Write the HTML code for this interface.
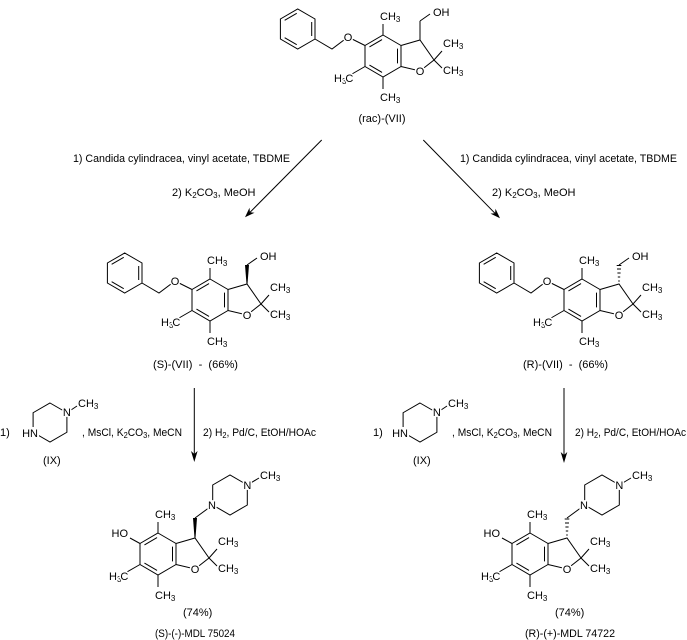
<!DOCTYPE html>
<html><head><meta charset="utf-8"><style>
html,body{margin:0;padding:0;background:#fff;}
svg{display:block;}
.b{stroke:#000;stroke-width:1;fill:none;}
text{font-family:"Liberation Sans",Arial,sans-serif;font-size:11px;fill:#000;}
.l{stroke:#fff;stroke-width:3;paint-order:stroke;stroke-linejoin:round;}
.w{fill:#fff;stroke:none;}
</style></head><body>
<svg width="687" height="640" viewBox="0 0 687 640" xmlns="http://www.w3.org/2000/svg">
<rect width="687" height="640" fill="#fff"/>

<!-- ===== rac-(VII) ===== -->
<g transform="translate(383,35)">
<path class="b" d="M0,0 L18,10.5 L18,31.5 L0,42 L-18,31.5 L-18,10.5 Z M-13.55,11.96 L-0.95,4.6 M14.5,13.65 L14.5,28.35 M-0.95,37.4 L-13.55,30.05 M18,10.5 L37,5 L51,25 L37,36 L18,31.5 M51,25 L59,16 M51,25 L59,33 M0,0 L0,-11 M0,42 L0,54 M-18,31.5 L-31,39"/>
<path class="b" d="M37,5 L37,-14 M37,-14 L47,-21 M-18,10.5 L-35,2 L-51,14 L-68,4 M-68,4 L-68,-16 L-85.3,-26 L-102.6,-16 L-102.6,4 L-85.3,14 Z M-98.35,-14.64 L-86.25,-21.64 M-71.3,-13 L-71.3,1 M-86.25,9.64 L-98.35,2.64"/>
<circle class="w" cx="37" cy="36" r="5"/>
<circle class="w" cx="-35" cy="2" r="5"/>
<text class="l" x="37" y="40" text-anchor="middle">O</text>
<text class="l" x="-3" y="-15">CH<tspan font-size="8" dy="2">3</tspan></text>
<text class="l" x="60" y="12">CH<tspan font-size="8" dy="2">3</tspan></text>
<text class="l" x="60" y="39">CH<tspan font-size="8" dy="2">3</tspan></text>
<text class="l" x="-3" y="66">CH<tspan font-size="8" dy="2">3</tspan></text>
<text class="l" x="-49" y="47">H<tspan font-size="8" dy="2">3</tspan><tspan dy="-2" dx="-1">C</tspan></text>
<text class="l" x="-35" y="6" text-anchor="middle">O</text>
<text class="l" x="50" y="-19">OH</text>
</g>
<text x="382" y="122" text-anchor="middle">(rac)-(VII)</text>

<!-- ===== arrows top ===== -->
<path class="b" d="M321.7,140 L250,212.3"/>
<polygon points="245,217.3 254.5,212.7 249.9,212.3 249.5,207.7" fill="#000"/>
<path class="b" d="M423.3,140 L495,213.3"/>
<polygon points="500,218.3 495.5,208.7 495.1,213.3 490.5,213.6" fill="#000"/>

<text x="73" y="162" textLength="217" lengthAdjust="spacingAndGlyphs">1) Candida cylindracea, vinyl acetate, TBDME</text>
<text x="172" y="196">2) K<tspan font-size="8" dy="2">2</tspan><tspan dy="-2">CO</tspan><tspan font-size="8" dy="2">3</tspan><tspan dy="-2">, MeOH</tspan></text>
<text x="460" y="162" textLength="217" lengthAdjust="spacingAndGlyphs">1) Candida cylindracea, vinyl acetate, TBDME</text>
<text x="492" y="196">2) K<tspan font-size="8" dy="2">2</tspan><tspan dy="-2">CO</tspan><tspan font-size="8" dy="2">3</tspan><tspan dy="-2">, MeOH</tspan></text>

<!-- ===== (S)-(VII) ===== -->
<g transform="translate(210,279)">
<path class="b" d="M0,0 L18,10.5 L18,31.5 L0,42 L-18,31.5 L-18,10.5 Z M-13.55,11.96 L-0.95,4.6 M14.5,13.65 L14.5,28.35 M-0.95,37.4 L-13.55,30.05 M18,10.5 L37,5 L51,25 L37,36 L18,31.5 M51,25 L59,16 M51,25 L59,33 M0,0 L0,-11 M0,42 L0,54 M-18,31.5 L-31,39"/>
<polygon points="36.5,5 37.5,5 39,-14 35,-14" fill="#000"/>
<path class="b" d="M37,-14 L47,-21 M-18,10.5 L-35,2 L-51,14 L-68,4 M-68,4 L-68,-16 L-85.3,-26 L-102.6,-16 L-102.6,4 L-85.3,14 Z M-98.35,-14.64 L-86.25,-21.64 M-71.3,-13 L-71.3,1 M-86.25,9.64 L-98.35,2.64"/>
<circle class="w" cx="37" cy="36" r="5"/>
<circle class="w" cx="-35" cy="2" r="5"/>
<text class="l" x="37" y="40" text-anchor="middle">O</text>
<text class="l" x="-3" y="-15">CH<tspan font-size="8" dy="2">3</tspan></text>
<text class="l" x="60" y="12">CH<tspan font-size="8" dy="2">3</tspan></text>
<text class="l" x="60" y="39">CH<tspan font-size="8" dy="2">3</tspan></text>
<text class="l" x="-3" y="66">CH<tspan font-size="8" dy="2">3</tspan></text>
<text class="l" x="-49" y="47">H<tspan font-size="8" dy="2">3</tspan><tspan dy="-2" dx="-1">C</tspan></text>
<text class="l" x="-35" y="6" text-anchor="middle">O</text>
<text class="l" x="50" y="-19">OH</text>
</g>
<text x="153" y="368" textLength="85" lengthAdjust="spacingAndGlyphs">(S)-(VII)&#160;&#160;-&#160;&#160;(66%)</text>

<!-- ===== (R)-(VII) ===== -->
<g transform="translate(582,279)">
<path class="b" d="M0,0 L18,10.5 L18,31.5 L0,42 L-18,31.5 L-18,10.5 Z M-13.55,11.96 L-0.95,4.6 M14.5,13.65 L14.5,28.35 M-0.95,37.4 L-13.55,30.05 M18,10.5 L37,5 L51,25 L37,36 L18,31.5 M51,25 L59,16 M51,25 L59,33 M0,0 L0,-11 M0,42 L0,54 M-18,31.5 L-31,39"/>
<path class="b" d="M36.2,2 L37.8,2 M35.8,-2 L38.2,-2 M35.4,-6 L38.6,-6 M35,-10 L39,-10 M34.7,-13.5 L39.3,-13.5"/>
<path class="b" d="M37,-14 L47,-21 M-18,10.5 L-35,2 L-51,14 L-68,4 M-68,4 L-68,-16 L-85.3,-26 L-102.6,-16 L-102.6,4 L-85.3,14 Z M-98.35,-14.64 L-86.25,-21.64 M-71.3,-13 L-71.3,1 M-86.25,9.64 L-98.35,2.64"/>
<circle class="w" cx="37" cy="36" r="5"/>
<circle class="w" cx="-35" cy="2" r="5"/>
<text class="l" x="37" y="40" text-anchor="middle">O</text>
<text class="l" x="-3" y="-15">CH<tspan font-size="8" dy="2">3</tspan></text>
<text class="l" x="60" y="12">CH<tspan font-size="8" dy="2">3</tspan></text>
<text class="l" x="60" y="39">CH<tspan font-size="8" dy="2">3</tspan></text>
<text class="l" x="-3" y="66">CH<tspan font-size="8" dy="2">3</tspan></text>
<text class="l" x="-49" y="47">H<tspan font-size="8" dy="2">3</tspan><tspan dy="-2" dx="-1">C</tspan></text>
<text class="l" x="-35" y="6" text-anchor="middle">O</text>
<text class="l" x="50" y="-19">OH</text>
</g>
<text x="523" y="368" textLength="85" lengthAdjust="spacingAndGlyphs">(R)-(VII)&#160;&#160;-&#160;&#160;(66%)</text>

<!-- ===== vertical arrows ===== -->
<path class="b" d="M194.3,388 L194.3,455"/>
<polygon points="194.3,462 191,451 194.3,454 197.6,451" fill="#000"/>
<path class="b" d="M564,388 L564,456"/>
<polygon points="564,463 560.7,452 564,455 567.3,452" fill="#000"/>

<!-- left reagents -->
<text x="0" y="436">1)</text>
<path class="b" d="M50,403 L66.9,412.75 L66.9,432.25 L50,442 L33.1,432.25 L33.1,412.75 Z M66.9,412.75 L77,406"/>
<rect class="w" x="25" y="427" width="14" height="11"/>
<circle class="w" cx="66.9" cy="412" r="5"/>
<text class="l" x="38" y="437" text-anchor="end">HN</text>
<text class="l" x="66.9" y="416" text-anchor="middle">N</text>
<text class="l" x="78" y="407">CH<tspan font-size="8" dy="2">3</tspan></text>
<text x="43" y="464">(IX)</text>
<text x="82" y="436" textLength="100" lengthAdjust="spacingAndGlyphs">, MsCl, K<tspan font-size="8" dy="2">2</tspan><tspan dy="-2">CO</tspan><tspan font-size="8" dy="2">3</tspan><tspan dy="-2">, MeCN</tspan></text>
<text x="203" y="436" textLength="113" lengthAdjust="spacingAndGlyphs">2) H<tspan font-size="8" dy="2">2</tspan><tspan dy="-2">, Pd/C, EtOH/HOAc</tspan></text>

<!-- right reagents -->
<text x="373" y="436">1)</text>
<path class="b" d="M420,403 L436.9,412.75 L436.9,432.25 L420,442 L403.1,432.25 L403.1,412.75 Z M436.9,412.75 L447,406"/>
<rect class="w" x="395" y="427" width="14" height="11"/>
<circle class="w" cx="436.9" cy="412" r="5"/>
<text class="l" x="408" y="437" text-anchor="end">HN</text>
<text class="l" x="436.9" y="416" text-anchor="middle">N</text>
<text class="l" x="448" y="407">CH<tspan font-size="8" dy="2">3</tspan></text>
<text x="413" y="464">(IX)</text>
<text x="452" y="436" textLength="100" lengthAdjust="spacingAndGlyphs">, MsCl, K<tspan font-size="8" dy="2">2</tspan><tspan dy="-2">CO</tspan><tspan font-size="8" dy="2">3</tspan><tspan dy="-2">, MeCN</tspan></text>
<text x="575" y="436" textLength="111" lengthAdjust="spacingAndGlyphs">2) H<tspan font-size="8" dy="2">2</tspan><tspan dy="-2">, Pd/C, EtOH/HOAc</tspan></text>

<!-- ===== (S)-(-)-MDL 75024 ===== -->
<g transform="translate(158,533)">
<path class="b" d="M0,0 L18,10.5 L18,31.5 L0,42 L-18,31.5 L-18,10.5 Z M-13.55,11.96 L-0.95,4.6 M14.5,13.65 L14.5,28.35 M-0.95,37.4 L-13.55,30.05 M18,10.5 L37,5 L51,25 L37,36 L18,31.5 M51,25 L59,16 M51,25 L59,33 M0,0 L0,-11 M0,42 L0,54 M-18,31.5 L-31,39"/>
<polygon points="36.5,5 37.5,5 39,-15 35,-15" fill="#000"/>
<path class="b" d="M-18,10.5 L-28,5 M37,-15 L54.7,-28 M54.7,-28 L54.7,-48 L72,-58 L89.3,-48 L89.3,-28 L72,-18 Z M89.3,-48 L101,-55"/>
<circle class="w" cx="37" cy="36" r="5"/>
<circle class="w" cx="54" cy="-28" r="5"/>
<circle class="w" cx="89.3" cy="-48" r="5"/>
<text class="l" x="37" y="40" text-anchor="middle">O</text>
<text class="l" x="-3" y="-15">CH<tspan font-size="8" dy="2">3</tspan></text>
<text class="l" x="60" y="12">CH<tspan font-size="8" dy="2">3</tspan></text>
<text class="l" x="60" y="39">CH<tspan font-size="8" dy="2">3</tspan></text>
<text class="l" x="-3" y="66">CH<tspan font-size="8" dy="2">3</tspan></text>
<text class="l" x="-49" y="47">H<tspan font-size="8" dy="2">3</tspan><tspan dy="-2" dx="-1">C</tspan></text>
<text class="l" x="-30" y="4" text-anchor="end">HO</text>
<text class="l" x="54" y="-24" text-anchor="middle">N</text>
<text class="l" x="89.3" y="-44" text-anchor="middle">N</text>
<text class="l" x="102" y="-54">CH<tspan font-size="8" dy="2">3</tspan></text>
</g>
<text x="183" y="616">(74%)</text>
<text x="155" y="637" textLength="80" lengthAdjust="spacingAndGlyphs">(S)-(-)-MDL 75024</text>

<!-- ===== (R)-(+)-MDL 74722 ===== -->
<g transform="translate(530,533)">
<path class="b" d="M0,0 L18,10.5 L18,31.5 L0,42 L-18,31.5 L-18,10.5 Z M-13.55,11.96 L-0.95,4.6 M14.5,13.65 L14.5,28.35 M-0.95,37.4 L-13.55,30.05 M18,10.5 L37,5 L51,25 L37,36 L18,31.5 M51,25 L59,16 M51,25 L59,33 M0,0 L0,-11 M0,42 L0,54 M-18,31.5 L-31,39"/>
<path class="b" d="M36.2,2 L37.8,2 M35.8,-2 L38.2,-2 M35.4,-6 L38.6,-6 M35,-10 L39,-10 M34.7,-14 L39.3,-14"/>
<path class="b" d="M-18,10.5 L-28,5 M37,-15 L54.7,-28 M54.7,-28 L54.7,-48 L72,-58 L89.3,-48 L89.3,-28 L72,-18 Z M89.3,-48 L101,-55"/>
<circle class="w" cx="37" cy="36" r="5"/>
<circle class="w" cx="54" cy="-28" r="5"/>
<circle class="w" cx="89.3" cy="-48" r="5"/>
<text class="l" x="37" y="40" text-anchor="middle">O</text>
<text class="l" x="-3" y="-15">CH<tspan font-size="8" dy="2">3</tspan></text>
<text class="l" x="60" y="12">CH<tspan font-size="8" dy="2">3</tspan></text>
<text class="l" x="60" y="39">CH<tspan font-size="8" dy="2">3</tspan></text>
<text class="l" x="-3" y="66">CH<tspan font-size="8" dy="2">3</tspan></text>
<text class="l" x="-49" y="47">H<tspan font-size="8" dy="2">3</tspan><tspan dy="-2" dx="-1">C</tspan></text>
<text class="l" x="-30" y="4" text-anchor="end">HO</text>
<text class="l" x="54" y="-24" text-anchor="middle">N</text>
<text class="l" x="89.3" y="-44" text-anchor="middle">N</text>
<text class="l" x="102" y="-54">CH<tspan font-size="8" dy="2">3</tspan></text>
</g>
<text x="555" y="616">(74%)</text>
<text x="525" y="637" textLength="90" lengthAdjust="spacingAndGlyphs">(R)-(+)-MDL 74722</text>
</svg>
</body></html>
